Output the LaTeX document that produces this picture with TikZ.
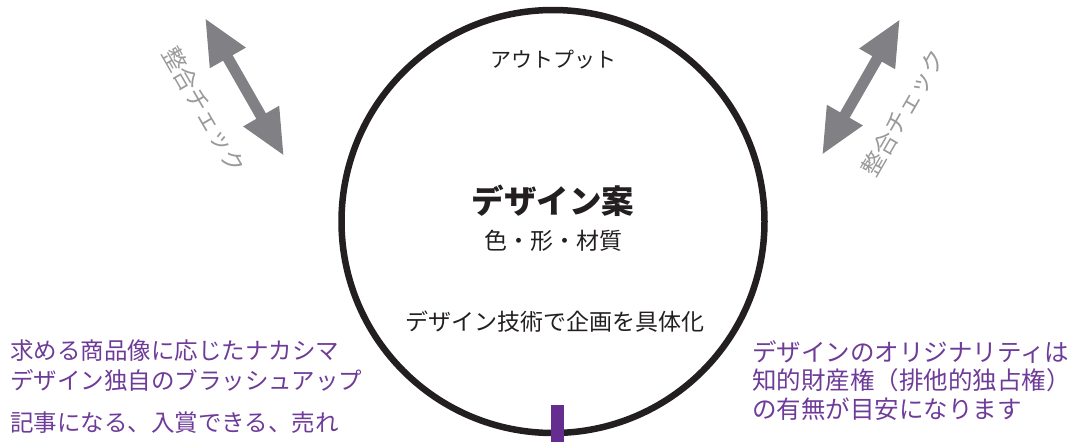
\documentclass[tikz,border=0pt]{standalone}
\usepackage{fontspec}
\usetikzlibrary{arrows.meta}
\usepackage{xcolor}
\setmainfont{Noto Sans CJK JP}
\newfontfamily\cjk{Noto Sans CJK JP}

\definecolor{ringblack}{HTML}{231F20}
\definecolor{checkgray}{HTML}{808085}
\definecolor{labelgray}{HTML}{9A9A9C}
\definecolor{notepurple}{HTML}{6E3C98}
\definecolor{barpurple}{HTML}{662D91}

\begin{document}
\begin{tikzpicture}[x=1pt,y=-1pt,>=Stealth,
  checkarrow/.style={line width=11pt,draw=checkgray,
    {Triangle[length=46pt,width=38pt]}-{Triangle[length=46pt,width=38pt]}},
  checklabel/.style={text=labelgray,font=\cjk\fontsize{23.5}{23.5}\selectfont,inner sep=0pt},
  ringtext/.style={text=ringblack,font=\cjk\fontsize{21}{21}\selectfont,inner sep=0pt},
  note/.style={text=notepurple,font=\cjk\fontsize{23.5}{30}\selectfont,inner sep=0pt,align=left}]
  \useasboundingbox (0,0) rectangle (1082,442);

  \draw[line width=6.5pt,draw=ringblack] (553,221.5) circle[radius=211.5];
  \fill[barpurple] (551,405) rectangle (564,442);

  % texts in the ring
  \node[ringtext] (out) at (553,60) {アウトプット};
  \node[ringtext,font=\cjk\bfseries\fontsize{32.5}{32.5}\selectfont] (plan) at (553,201) {デザイン案};
  \node[ringtext,font=\cjk\fontsize{23}{23}\selectfont] (attr) at (553,241) {色・形・材質};
  \node[ringtext,font=\cjk\fontsize{23}{23}\selectfont] (tech) at (555,322) {デザイン技術で企画を具体化};

  % check arrows
  \coordinate (chkLa) at (205,18);
  \coordinate (chkLb) at (284,156);
  \coordinate (chkRa) at (900,19);
  \coordinate (chkRb) at (822,155);
  \draw[checkarrow] (chkLa) -- (chkLb);
  \draw[checkarrow] (chkRa) -- (chkRb);
  \node[checklabel,rotate=-60] (chkL) at (204,110) {整合チェック};
  \node[checklabel,rotate=60] (chkR) at (903,113) {整合チェック};

  % notes
  \node[note,anchor=north west] (noteL) at (10,340) {求める商品像に応じたナカシマ\\デザイン独自のブラッシュアップ};
  \node[note,anchor=north west] (noteL2) at (10,412) {記事になる、入賞できる、売れ};
  \node[note,anchor=north west,font=\cjk\fontsize{24.5}{28.5}\selectfont] (noteR) at (752,340) {デザインのオリジナリティは\\知的財産権（排他的独占権）\\の有無が目安になります};
\end{tikzpicture}
\end{document}
